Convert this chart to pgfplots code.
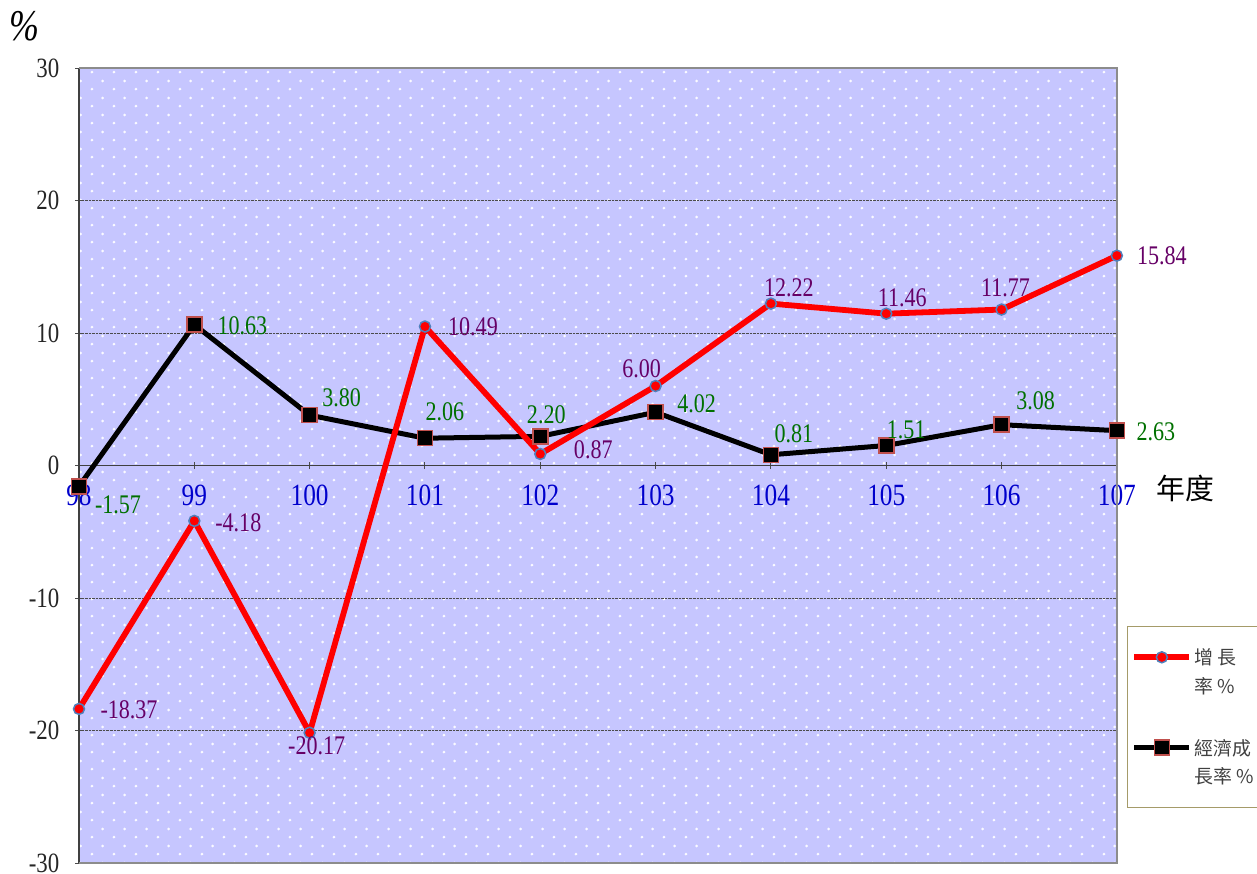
\documentclass[border=0pt]{standalone}
\usepackage{fontspec}
\setmainfont{Liberation Serif}[FakeStretch=0.82]
\newfontfamily\cjk{Noto Sans CJK TC}
\usepackage{pgfplots}
\usepackage{pgfplotstable}
\pgfplotsset{compat=1.18}
\usetikzlibrary{patterns.meta}

\definecolor{bgc}{RGB}{198,198,255}
\definecolor{dotc}{RGB}{250,250,255}
\definecolor{redval}{RGB}{102,0,102}
\definecolor{greenval}{RGB}{0,112,0}
\definecolor{ticklab}{RGB}{0,0,204}
\definecolor{circedge}{RGB}{79,129,189}
\definecolor{sqedge}{RGB}{192,80,77}
\definecolor{legedge}{RGB}{165,155,105}

\tikzdeclarepattern{
  name=softdots, type=uncolored,
  bottom left={(0bp,0bp)}, top right={(21.7bp,16.6bp)},
  tile size={(21.7bp,16.6bp)},
  code={
    \fill (5bp,4bp) circle (1.5bp);
    \fill (15.85bp,12.3bp) circle (1.5bp);
  }
}

% growth rate (red) and economic growth rate (black); dx/dy = label offset in bp
\pgfplotstableread{
x y dx dy
0 -18.37 50 -1
1 -4.18 44 -2
2 -20.17 7 -13
3 10.49 48 0
4 0.87 53 4
5 6.00 -14 17
6 12.22 18 16
7 11.46 16 16
8 11.77 4 22
9 15.84 45 0
}\growth

\pgfplotstableread{
x y dx dy
0 -1.57 39 -18
1 10.63 48 -1
2 3.80 32 17
3 2.06 20 26
4 2.20 6 22
5 4.02 41 8
6 0.81 23 21
7 1.51 20 16
8 3.08 34 24
9 2.63 39 -1
}\econ

\pgfplotsset{
  vallabels/.style={
    nodes near coords={\pgfmathprintnumber[fixed, fixed zerofill, precision=2]{\pgfplotspointmeta}},
    visualization depends on={\thisrow{dx}\as\dx},
    visualization depends on={\thisrow{dy}\as\dy},
    every node near coord/.append style={anchor=center, inner sep=0pt,
      xshift=\dx bp, yshift=\dy bp, font=\fontsize{27}{27}\selectfont, text=#1},
  }
}

\begin{document}
\begin{tikzpicture}
\useasboundingbox (0bp,0bp) rectangle (1257bp,-874bp);
\begin{axis}[
  at={(79bp,-863bp)}, anchor=south west,
  scale only axis, width=1038bp, height=795bp,
  xmin=0, xmax=9, ymin=-30, ymax=30,
  axis x line=middle, axis y line=left,
  axis line style={-, line width=1.6bp, black!75},
  hide obscured x ticks=false, hide obscured y ticks=false,
  xtick={0,...,9},
  xticklabels={98,99,100,101,102,103,104,105,106,107},
  ytick={-30,-20,...,30},
  ymajorgrids, grid style={densely dotted, black!70, line width=0.7bp},
  major tick length=7bp,
  tick style={black!70, line width=1bp},
  xticklabel style={font=\fontsize{31}{31}\selectfont, text=ticklab, inner sep=0pt, anchor=north, yshift=-16bp},
  yticklabel style={font=\fontsize{28}{28}\selectfont, text=black!85, inner sep=0pt, anchor=east, xshift=-16bp},
  /pgf/number format/assume math mode=true,
  clip=false,
  axis background/.style={fill=bgc, postaction={pattern=softdots, pattern color=dotc}},
  reverse legend,
  legend cell align=left,
  legend style={at={(1.0096,0.2981)}, anchor=north west, draw=legedge, line width=1.2bp,
    fill=white, font=\cjk\fontsize{19}{29}\selectfont, text=black!75,
    inner xsep=4bp, inner ysep=20bp, row sep=40bp, nodes={align=left, inner sep=2bp}},
  legend image code/.code={\draw[mark repeat=2, mark phase=2, #1] plot coordinates {(0bp,14.5bp) (27.5bp,14.5bp) (55bp,14.5bp)};},
]
\draw[black!45, line width=2.2bp] (rel axis cs:0,1) -- (rel axis cs:1,1) -- (rel axis cs:1,0) -- (rel axis cs:0,0);

\addplot[black, line width=5bp, mark=square*, mark size=7.5bp,
  mark options={fill=black, draw=sqedge, line width=1.5bp}, vallabels=greenval]
  table[x=x, y=y] {\econ};
\addlegendentry{經濟成\\長率 \%}

\addplot[red, line width=5.8bp, mark=*, mark size=5.5bp,
  mark options={fill=red, draw=circedge, line width=1.5bp}, vallabels=redval]
  table[x=x, y=y] {\growth};
\addlegendentry{增\ 長\\率 \%}
\end{axis}
\node at (1185bp,-488bp) {\cjk\fontsize{29}{29}\selectfont 年度};
\node at (24bp,-26bp) {\itshape\fontsize{44}{44}\selectfont \%};
\end{tikzpicture}
\end{document}
